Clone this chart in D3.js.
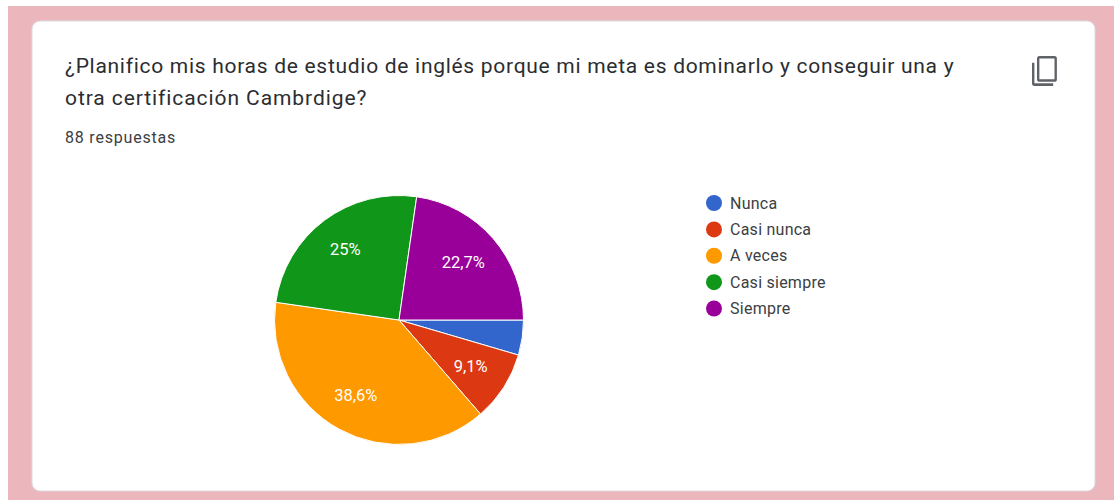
<!DOCTYPE html>
<html>
<head>
<meta charset="utf-8">
<script src="https://cdn.jsdelivr.net/npm/d3@7"></script>
<style>
html, body { margin: 0; padding: 0; background: #fff; }
svg { display: block; }
text { font-family: Roboto, sans-serif; }
</style>
</head>
<body>
<svg id="chart" width="1114" height="501"></svg>
<script>
const categories = ["Nunca", "Casi nunca", "A veces", "Casi siempre", "Siempre"];
const counts = [4, 8, 34, 22, 20];
const sliceLabels = ["", "9,1%", "38,6%", "25%", "22,7%"];
const colors = ["#3366cc", "#dc3912", "#ff9900", "#109618", "#990099"];
const titleLines = [
    "¿Planifico mis horas de estudio de inglés porque mi meta es dominarlo y conseguir una y",
    "otra certificación Cambrdige?"
];
const subtitle = "88 respuestas";

const svg = d3.select("#chart");

// Page background and card
svg.append("rect").attr("x", 8).attr("y", 6).attr("width", 1106).attr("height", 494).attr("fill", "#ecb7bc");
svg.append("rect").attr("x", 32).attr("y", 21).attr("width", 1063).attr("height", 470).attr("rx", 8)
    .attr("fill", "#fff").attr("stroke", "#dadce0").attr("stroke-width", 1);

// Title
svg.selectAll(".title").data(titleLines).join("text")
    .attr("class", "title")
    .attr("x", 65)
    .attr("y", (d, i) => 73 + i * 32)
    .attr("font-size", 21)
    .attr("letter-spacing", (d, i) => i ? 0.92 : 0.71)
    .attr("fill", "#2b2d30")
    .text(d => d);

svg.append("text").attr("x", 65).attr("y", 143)
    .attr("font-size", 16).attr("letter-spacing", 0.8).attr("fill", "#3c4043")
    .text(subtitle);

// Copy icon
const icon = svg.append("g").attr("transform", "translate(1030.7,54.5) scale(1.25,1.37)")
    .attr("fill", "none").attr("stroke", "#5f6368").attr("stroke-width", 1.9);
icon.append("path").attr("d", "M2 6V21a1 1 0 0 0 1 1H18");
icon.append("rect").attr("x", 6).attr("y", 2).attr("width", 14).attr("height", 17).attr("rx", 1);

// Pie, clockwise from 3 o'clock
const pie = d3.pie().sort(null).startAngle(Math.PI / 2).endAngle(Math.PI * 2.5);
const arcs = pie(counts);
const radius = 124.5;
const arc = d3.arc().innerRadius(0).outerRadius(radius);
const labelArc = d3.arc().innerRadius(87).outerRadius(87);

const pieG = svg.append("g").attr("transform", "translate(399,320)");
pieG.selectAll("path").data(arcs).join("path")
    .attr("d", arc)
    .attr("fill", (d, i) => colors[i])
    .attr("stroke", "#fff")
    .attr("stroke-width", 1);
pieG.selectAll("text").data(arcs).join("text")
    .attr("transform", d => `translate(${labelArc.centroid(d)})`)
    .attr("text-anchor", "middle")
    .attr("dx", -1.5)
    .attr("dy", "0.3em")
    .attr("font-size", 16.5)
    .attr("fill", "#fff")
    .text((d, i) => sliceLabels[i]);

// Legend
const legendY = d3.scalePoint().domain(categories).range([203, 308.5]);
const legend = svg.selectAll(".legend").data(categories).join("g")
    .attr("class", "legend")
    .attr("transform", d => `translate(714,${legendY(d)})`);
legend.append("circle").attr("r", 8).attr("fill", (d, i) => colors[i]);
legend.append("text").attr("x", 16).attr("dy", "0.35em")
    .attr("font-size", 16).attr("letter-spacing", 0.25).attr("fill", "#3c4043").text(d => d);
</script>
</body>
</html>
